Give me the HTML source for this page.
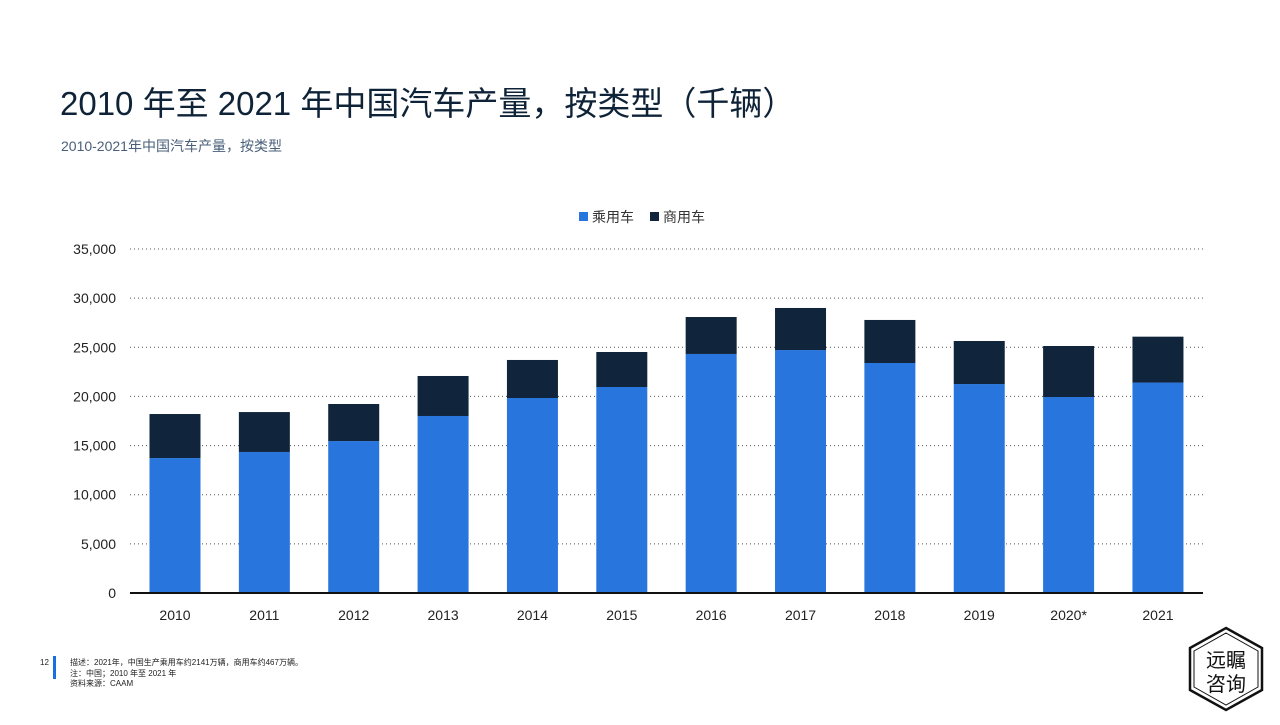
<!DOCTYPE html>
<html><head><meta charset="utf-8">
<style>
body{margin:0;width:1280px;height:720px;background:#fff;overflow:hidden;font-family:"Liberation Sans","Noto Sans CJK SC",sans-serif;}
</style></head>
<body>
<svg id="chart" width="1280" height="720" xmlns="http://www.w3.org/2000/svg" font-family="Liberation Sans, Noto Sans CJK SC, sans-serif">
<text x="60" y="115" font-size="33" fill="#0f2338">2010 年至 2021 年中国汽车产量，按类型（千辆）</text>
<text x="61" y="151" font-size="14" fill="#4a5f7a">2010-2021年中国汽车产量，按类型</text>
<g>
<rect x="579" y="212" width="9" height="9" fill="#2876dd"/>
<text x="592" y="222" font-size="14" fill="#333">乘用车</text>
<rect x="650" y="212" width="9" height="9" fill="#10243b"/>
<text x="663" y="222" font-size="14" fill="#333">商用车</text>
</g>
<g id="grid"></g><g id="bars"></g><g id="axes"></g>
<g font-size="8" fill="#222">
<text x="40" y="665">12</text>
<rect x="53" y="656" width="3" height="23" fill="#1a6fe0"/>
<text x="70" y="665">描述：2021年，中国生产乘用车约2141万辆，商用车约467万辆。</text>
<text x="70" y="676">注：中国；2010 年至 2021 年</text>
<text x="70" y="686">资料来源：CAAM</text>
</g>
<g>
<polygon points="1226,628 1262,648 1262,690 1226,710 1190,690 1190,648" fill="none" stroke="#111" stroke-width="2.5"/>
<polygon points="1226,633 1258,651 1258,687 1226,705 1194,687 1194,651" fill="none" stroke="#111" stroke-width="1"/>
<text x="1226" y="667" font-size="20" text-anchor="middle" fill="#111">远瞩</text>
<text x="1226" y="691" font-size="20" text-anchor="middle" fill="#111">咨询</text>
</g>
</svg>
<script>
const categories=["2010","2011","2012","2013","2014","2015","2016","2017","2018","2019","2020*","2021"];
const passenger=[13730,14350,15460,18010,19840,20960,24320,24720,23400,21260,19940,21410];
const commercial=[4480,4060,3770,4070,3870,3560,3760,4280,4380,4380,5190,4670];
const yTicks=[0,5000,10000,15000,20000,25000,30000,35000];
const ns="http://www.w3.org/2000/svg";
const y=v=>593-v*(344/35000);
const x=i=>175+i*89.36;
const bw=51;
function mk(t,a,p){const e=document.createElementNS(ns,t);for(const k in a)e.setAttribute(k,a[k]);p.appendChild(e);return e;}
const grid=document.getElementById('grid'),bars=document.getElementById('bars'),axes=document.getElementById('axes');
yTicks.forEach(v=>{
 if(v>0){const l=mk('line',{x1:130,x2:1203,y1:y(v),y2:y(v),stroke:'#555','stroke-width':1,'stroke-dasharray':'1,3'},grid);
 
 }
 const t=mk('text',{x:116,y:y(v)+5,'font-size':14,'text-anchor':'end',fill:'#222'},axes);
 t.textContent=v.toLocaleString('en-US');
 
 
});
categories.forEach((c,i)=>{
 const r1=mk('rect',{x:x(i)-bw/2,y:y(passenger[i]),width:bw,height:y(0)-y(passenger[i]),fill:'#2876dd'},bars);
 
 
 const tot=passenger[i]+commercial[i];
 const r2=mk('rect',{x:x(i)-bw/2,y:y(tot),width:bw,height:y(passenger[i])-y(tot),fill:'#10243b'},bars);
 
 
 const t=mk('text',{x:x(i),y:620,'font-size':14,'text-anchor':'middle',fill:'#222'},axes);
 t.textContent=c;
 
 
});
const ax=mk('line',{x1:130,x2:1203,y1:593,y2:593,stroke:'#111','stroke-width':2},axes);


</script>
</body></html>
